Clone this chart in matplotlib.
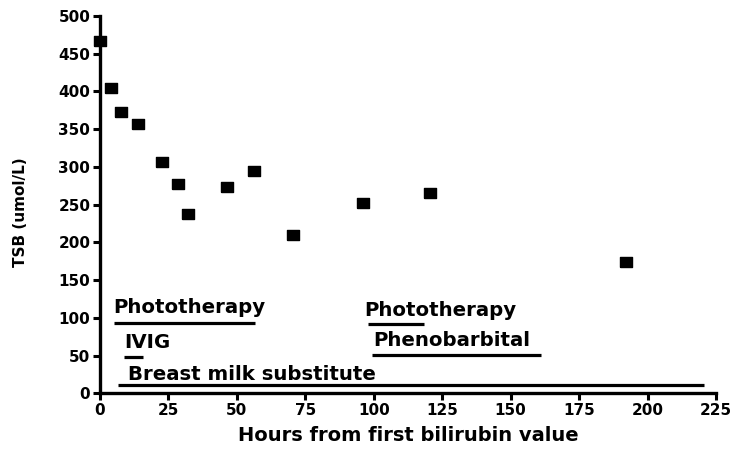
import matplotlib
matplotlib.use("Agg")
import matplotlib.pyplot as plt

# TSB measurements (hours, umol/L)
hours = [0, 4, 7.6, 14, 22.5, 28.6, 32, 46.3, 56.4, 70.4, 96.2, 120.5, 192]
tsb = [467, 404, 372, 357, 306, 277, 238, 273, 295, 209, 252, 265, 174]

# treatment periods: label, start, end, line level, label x, label level
treat_labels = ["Phototherapy", "IVIG", "Breast milk substitute", "Phototherapy", "Phenobarbital"]
treat_start = [5, 8.8, 6.7, 98, 99.2]
treat_end = [56.6, 15.8, 220.6, 118.4, 161]
treat_level = [93, 48.5, 11, 91.5, 51]
label_x = [4.7, 8.8, 10.3, 96.4, 99.8]
label_level = [106, 60, 18, 103, 62]

x_ticks = list(range(0, 226, 25))
y_ticks = list(range(0, 501, 50))

plt.rcParams['font.family'] = ['DejaVu Sans']
plt.rcParams['font.weight'] = 'bold'

# the source image is a bit wider than tall: slightly flat square markers
box = [(-1, -0.78), (1, -0.78), (1, 0.78), (-1, 0.78), (-1, -0.78)]

fig = plt.figure(figsize=(7.37, 4.5), dpi=100)
ax = fig.add_axes([0.1357, 0.126, 0.8358, 0.839])

ax.plot(hours, tsb, linestyle='none', marker=box, color='black', markersize=8.8,
        clip_on=False, zorder=5)

for lab, s, e, lv, lx, ll in zip(treat_labels, treat_start, treat_end, treat_level, label_x, label_level):
    ax.plot([s, e], [lv, lv], color='black', linewidth=2.3, solid_capstyle='butt')
    ax.text(lx, ll, lab, fontsize=14.2, fontweight='bold', ha='left', va='baseline')

ax.set_xlim(0, 225)
ax.set_ylim(0, 500)
ax.set_xticks(x_ticks)
ax.set_yticks(y_ticks)
ax.spines['top'].set_visible(False)
ax.spines['right'].set_visible(False)
ax.spines['left'].set_linewidth(2.4)
ax.spines['bottom'].set_linewidth(2.4)
ax.tick_params(axis='both', direction='out', length=5, width=2.2, labelsize=11, pad=2)
for lbl in ax.get_xticklabels() + ax.get_yticklabels():
    lbl.set_fontweight('bold')

ax.set_xlabel("Hours from first bilirubin value", fontsize=14, fontweight='bold', labelpad=6)
ax.set_ylabel("TSB (umol/L)", fontsize=11, fontweight='bold')
ax.yaxis.set_label_coords(-0.117, 0.48)

fig.savefig("out.png", dpi=100)
